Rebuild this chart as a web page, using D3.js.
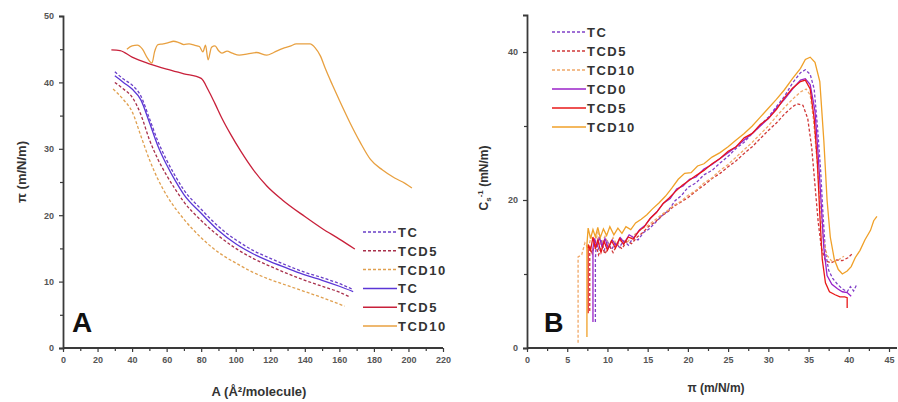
<!DOCTYPE html>
<html>
<head>
<meta charset="utf-8">
<script src="https://cdn.jsdelivr.net/npm/d3@7"></script>
<style>
  body { margin: 0; background: #fff; }
  svg text { font-family: "Liberation Sans", Arial, sans-serif; }
</style>
</head>
<body>
<div id="graph"></div>
<script>
let width = 898;
let height = 402;

// ---- panel A : isotherms, pi vs A ----
const aTicks = [0, 20, 40, 60, 80, 100, 120, 140, 160, 180, 200, 220];
const aPiTicks = [0, 10, 20, 30, 40, 50];

const tcA = [30, 35, 40, 45, 50, 55, 60, 65, 70, 80, 90, 100, 110, 120, 130, 140, 150, 160, 168];
const tcSolidPi = [41.0, 40.0, 39.0, 37.4, 34.0, 30.4, 27.6, 25.2, 23.1, 20.3, 17.7, 15.7, 14.2, 13.0, 12.0, 11.0, 10.2, 9.3, 8.5];
const tcDashPi = [41.6, 40.5, 39.6, 38.0, 34.6, 31.1, 28.3, 25.9, 23.8, 20.9, 18.3, 16.3, 14.7, 13.5, 12.4, 11.4, 10.6, 9.7, 8.8];

const tcd5DashA = [30, 35, 40, 45, 50, 55, 60, 65, 70, 80, 90, 100, 110, 120, 130, 140, 150, 160, 166];
const tcd5DashPi = [40.0, 39.0, 37.8, 35.2, 31.4, 28.4, 26.0, 23.9, 22.0, 19.2, 16.9, 15.0, 13.5, 12.3, 11.2, 10.2, 9.3, 8.4, 7.7];

const tcd10DashA = [29, 35, 40, 45, 50, 55, 60, 70, 80, 90, 100, 110, 120, 130, 140, 150, 163];
const tcd10DashPi = [39.0, 37.4, 35.6, 32.0, 28.4, 25.4, 23.0, 19.4, 16.6, 14.4, 12.8, 11.4, 10.3, 9.4, 8.5, 7.6, 6.3];

const tcd5SolidA = [28, 33, 40, 50, 60, 70, 80, 84, 88, 92, 97, 103, 110, 118, 127, 140, 150, 160, 169];
const tcd5SolidPi = [44.9, 44.8, 43.8, 42.8, 42.0, 41.3, 40.6, 38.9, 36.8, 34.6, 32.2, 29.6, 26.9, 24.4, 22.3, 19.8, 18.0, 16.4, 14.9];

const tcd10SolidA = [37, 40, 43, 46, 49, 51.5, 53, 55, 58, 61, 64, 67, 70, 73, 76, 79, 81, 82.5, 84, 86, 88, 90, 92, 95, 98, 102, 107, 112, 118, 122, 127, 132, 135, 140, 143, 146, 149, 152, 156, 160, 166, 172, 178, 185, 192, 198, 202];
const tcd10SolidPi = [45.0, 45.5, 45.6, 45.0, 43.6, 42.9, 44.6, 45.7, 45.8, 46.0, 46.2, 46.0, 45.7, 45.8, 45.6, 45.4, 44.6, 45.6, 43.4, 45.3, 45.5, 44.8, 44.4, 44.7, 44.4, 44.1, 44.3, 44.5, 44.1, 44.5, 45.1, 45.5, 45.8, 45.8, 45.8, 45.2, 44.0, 42.0, 39.6, 37.3, 34.0, 31.0, 28.4, 26.8, 25.6, 24.8, 24.1];

// ---- panel B : compressibility modulus vs pi ----
const bPiTicks = [0, 5, 10, 15, 20, 25, 30, 35, 40, 45];
const bCTicks = [0, 20, 40];

const bTcDash = [[8.5,3.5],[8.5,8],[8.5,12],[8.6,14.2],[8.9,13.4],[9.2,14.6],[9.6,13.2],[10,14.4],[10.5,13.3],[11,14.2],[11.5,13.6],[12,14.5],[12.6,13.9],[13.2,14.9],[13.8,14.6],[14.5,15.6],[15.2,16.1],[16,17.0],[16.8,17.9],[17.6,18.6],[18.4,19.9],[19.2,20.6],[20,21.7],[21,22.3],[22,23.4],[23,24.0],[24,25.0],[25,25.9],[26,27.0],[27,27.8],[28,29.0],[29,30.1],[30,31.2],[31,32.6],[32,34.0],[33,35.8],[34,37.2],[34.6,37.6],[35.2,37.0],[35.7,35.0],[36.1,30],[36.5,24],[36.8,18],[37.1,13],[37.5,10.5],[38,9.4],[38.6,8.6],[39.2,8.0],[39.8,7.6],[40.2,8.3],[40.6,7.7],[41.0,8.6]];
const bTcd5Dash = [[7.8,5],[7.8,10],[7.8,13.8],[8.1,12.8],[8.5,14.2],[8.9,12.6],[9.3,13.8],[9.7,12.7],[10.2,13.9],[10.7,12.9],[11.2,14.0],[11.8,13.4],[12.4,14.4],[13,14.1],[13.7,15.0],[14.4,15.6],[15.1,16.4],[15.9,17.0],[16.7,17.8],[17.5,18.4],[18.3,19.2],[19.1,19.7],[20,20.3],[21,21.2],[22,22.0],[23,22.9],[24,23.6],[25,24.5],[26,25.3],[27,26.3],[28,27.2],[29,28.3],[30,29.4],[31,30.4],[32,31.6],[33,32.6],[33.6,33.0],[34.3,32.8],[34.9,31.0],[35.4,27],[35.8,22],[36.2,17],[36.6,13.5],[37.1,11.8],[37.8,11.5],[38.5,11.9],[39.2,11.8],[39.9,12.2],[40.5,12.8]];
const bTcd10Dash = [[6.35,0.7],[6.35,6],[6.35,12.3],[6.8,12.6],[7.2,14.2],[7.6,13.4],[8,15.2],[8.4,13.9],[8.8,15.6],[9.2,14.0],[9.7,15.1],[10.2,13.8],[10.7,14.9],[11.2,13.9],[11.8,14.7],[12.4,14.2],[13,15.0],[13.7,15.6],[14.4,16.2],[15.1,16.6],[15.9,17.3],[16.7,18.0],[17.5,18.6],[18.3,19.3],[19.1,19.8],[20,20.6],[21,21.3],[22,22.3],[23,23.0],[24,24.0],[25,24.8],[26,25.8],[27,26.8],[28,27.8],[29,28.9],[30,30.0],[31,31.3],[32,32.5],[33,33.6],[34,34.6],[34.7,35.0],[35.2,34.2],[35.6,31],[36,26],[36.4,20],[36.8,15],[37.3,12.5],[38,11.6],[38.7,11.9],[39.4,12.4]];
const bTcd0Solid = [[8.2,3.5],[8.2,9],[8.2,13.5],[8.4,14.8],[8.7,13.6],[9,15],[9.3,13.8],[9.7,14.8],[10.1,13.5],[10.6,14.6],[11.1,13.8],[11.6,14.9],[12.1,14.2],[12.7,15.3],[13.3,14.9],[14,16.0],[14.7,16.6],[15.4,17.6],[16.2,18.5],[17,19.6],[17.8,20.2],[18.6,21.5],[19.4,21.9],[20.2,22.8],[21,23.1],[22,24.2],[23,24.8],[24,25.6],[25,26.4],[26,27.2],[27,28.1],[28,29.0],[29,30.0],[30,31.0],[31,32.4],[32,33.6],[33,35.0],[34,36.2],[34.6,36.4],[35.2,35.6],[35.8,32],[36.2,26],[36.6,19],[36.9,13.5],[37.3,9.8],[37.9,8.6],[38.6,8.0],[39.2,7.6],[39.8,7.5],[40.3,7.0]];
const bTcd5Solid = [[7.6,4.7],[7.6,10],[7.6,14],[7.9,13.2],[8.2,15.0],[8.5,13.4],[8.8,14.6],[9.2,12.9],[9.6,14.4],[10,13.2],[10.5,14.5],[11,13.5],[11.5,14.8],[12,14.0],[12.6,15.0],[13.2,14.7],[13.9,15.8],[14.6,16.4],[15.3,17.5],[16.1,18.3],[16.9,19.5],[17.7,20.3],[18.5,21.2],[19.3,22.0],[20.1,22.6],[21,23.3],[22,24.0],[23,24.9],[24,25.6],[25,26.6],[26,27.2],[27,28.4],[28,29.0],[29,30.2],[30,31.0],[31,32.2],[32,33.8],[33,35.1],[34,36.0],[34.6,36.2],[35.2,35.0],[35.7,31],[36.1,25],[36.4,18],[36.7,12],[37.1,8.8],[37.6,7.6],[38.3,7.2],[38.9,6.9],[39.5,6.9],[39.8,6.8],[39.8,5.4]];
const bTcd10Solid = [[7.45,1.5],[7.45,8],[7.45,14],[7.6,16.2],[7.9,14.8],[8.2,16.0],[8.5,15.0],[8.8,16.3],[9.1,14.9],[9.5,16.1],[9.9,15.2],[10.3,16.4],[10.8,15.3],[11.3,16.2],[11.8,15.5],[12.3,16.4],[12.9,16.0],[13.5,16.9],[14.2,17.4],[14.9,18.0],[15.6,18.8],[16.4,19.6],[17.2,20.5],[18,21.6],[18.8,22.8],[19.6,23.6],[20.4,23.7],[21.2,24.6],[22,24.9],[23,25.8],[24,26.4],[25,27.2],[26,28.1],[27,29.0],[28,30.0],[29,31.2],[30,32.4],[31,33.6],[32,34.9],[33,36.4],[34,37.8],[34.6,39.0],[35.2,39.3],[35.8,38.6],[36.4,36],[36.9,28],[37.3,20],[37.7,15],[38.2,12],[38.7,10.6],[39.2,10.0],[39.8,10.4],[40.3,11.0],[40.8,12.2],[41.4,13.2],[42.0,14.6],[42.7,15.9],[43.1,17.2],[43.5,17.8]];

let svg = d3.select('#graph')
    .append('svg')
        .attr('width', width)
        .attr('height', height);

// scales
let xA = d3.scaleLinear().domain([0, 220]).range([63, 443]);
let yA = d3.scaleLinear().domain([0, 50]).range([348, 16]);
let xB = d3.scaleLinear().domain([0, 45]).range([527, 889]);
let yB = d3.scaleLinear().domain([0, 45]).range([348, 15]);

function drawAxes(x, y, xMajor, xMinor, yMajor, yMinor, xEnd) {
    let gx = svg.append('g').attr('transform', 'translate(0,348)')
        .call(d3.axisBottom(x).tickValues(xMajor).tickSize(4).tickPadding(5).tickFormat(d3.format('d')));
    svg.append('g').attr('transform', 'translate(0,348)')
        .call(d3.axisBottom(x).tickValues(xMinor).tickSize(3).tickFormat(''))
        .select('.domain').remove();
    gx.select('.domain').attr('d', 'M' + x.range()[0] + ',0H' + xEnd);
    svg.append('g').attr('transform', 'translate(' + x.range()[0] + ',0)')
        .call(d3.axisLeft(y).tickValues(yMajor).tickSize(4).tickPadding(5).tickFormat(d3.format('d')));
    svg.append('g').attr('transform', 'translate(' + x.range()[0] + ',0)')
        .call(d3.axisLeft(y).tickValues(yMinor).tickSize(3).tickFormat(''))
        .select('.domain').remove();
    svg.selectAll('.domain').attr('stroke', '#3a3a3a').attr('stroke-width', 1.8);
    svg.selectAll('.tick line').attr('stroke', '#3a3a3a').attr('stroke-width', 1.2);
    svg.selectAll('.tick text').attr('fill', '#555').style('font-size', '9px').style('font-weight', 'bold');
}

drawAxes(xA, yA, aTicks, d3.range(10, 220, 20), aPiTicks, d3.range(5, 50, 10), 443);
drawAxes(xB, yB, bPiTicks, d3.range(2.5, 45, 5), bCTicks, [10, 30], 897);

// panel A curves (smooth isotherms)
let lineA = d3.line().x(d => xA(d[0])).y(d => yA(d[1])).curve(d3.curveMonotoneX);
let seriesA = [
    { name: 'TC',    a: tcA,        p: tcDashPi,    color: '#6a3fc8', dash: '3,2' },
    { name: 'TCD5',  a: tcd5DashA,  p: tcd5DashPi,  color: '#a8304c', dash: '3,2' },
    { name: 'TCD10', a: tcd10DashA, p: tcd10DashPi, color: '#e0a050', dash: '3,2' },
    { name: 'TC',    a: tcA,        p: tcSolidPi,   color: '#5b36d6', dash: null },
    { name: 'TCD5',  a: tcd5SolidA, p: tcd5SolidPi, color: '#c8203a', dash: null },
    { name: 'TCD10', a: tcd10SolidA, p: tcd10SolidPi, color: '#e8a040', dash: null }
];
seriesA.forEach(function(s) {
    svg.append('path')
        .attr('d', lineA(s.a.map((v, i) => [v, s.p[i]])))
        .style('fill', 'none')
        .attr('stroke', s.color)
        .attr('stroke-width', 1.3)
        .attr('stroke-dasharray', s.dash);
});

// panel B curves
let lineB = d3.line().x(d => xB(d[0])).y(d => yB(d[1]));
let seriesB = [
    { name: 'TC',    d: bTcDash,     color: '#8040c8', dash: '3,2' },
    { name: 'TCD5',  d: bTcd5Dash,   color: '#d03838', dash: '3,2' },
    { name: 'TCD10', d: bTcd10Dash,  color: '#f0a868', dash: '3,2' },
    { name: 'TCD0',  d: bTcd0Solid,  color: '#9a22c8', dash: null },
    { name: 'TCD5',  d: bTcd5Solid,  color: '#e81818', dash: null },
    { name: 'TCD10', d: bTcd10Solid, color: '#f0a028', dash: null }
];
seriesB.forEach(function(s) {
    svg.append('path')
        .attr('d', lineB(s.d))
        .style('fill', 'none')
        .attr('stroke', s.color)
        .attr('stroke-width', 1.3)
        .attr('stroke-dasharray', s.dash);
});

// legends
function legend(series, x0, y0, step) {
    series.forEach(function(s, i) {
        let y = y0 + i * step;
        svg.append('line')
            .attr('x1', x0).attr('x2', x0 + 34)
            .attr('y1', y).attr('y2', y)
            .attr('stroke', s.color)
            .attr('stroke-width', 1.5)
            .attr('stroke-dasharray', s.dash);
        svg.append('text')
            .attr('x', x0 + 35).attr('y', y + 5)
            .style('font-size', '13px').style('font-weight', 'bold')
            .style('letter-spacing', '1.5px')
            .attr('fill', '#333')
            .text(s.name);
    });
}
legend(seriesA, 363, 232, 18.8);
legend(seriesB, 552, 32, 19);

// panel letters
svg.append('text').attr('x', 72).attr('y', 332)
    .style('font-size', '28px').style('font-weight', 'bold').attr('fill', '#111').text('A');
svg.append('text').attr('x', 544).attr('y', 332)
    .style('font-size', '27px').style('font-weight', 'bold').attr('fill', '#111').text('B');

// axis titles
svg.append('text').attr('x', 259).attr('y', 396).attr('text-anchor', 'middle')
    .style('font-size', '13px').style('font-weight', 'bold').attr('fill', '#333')
    .text('A (Å²/molecule)');
svg.append('text').attr('transform', 'translate(26,172) rotate(-90)').attr('text-anchor', 'middle')
    .style('font-size', '13px').style('font-weight', 'bold').attr('fill', '#333')
    .text('π (m/N/m)');
svg.append('text').attr('x', 716).attr('y', 392).attr('text-anchor', 'middle')
    .style('font-size', '12px').style('font-weight', 'bold').attr('fill', '#333')
    .text('π (m/N/m)');
let yt = svg.append('text').attr('transform', 'translate(488,178) rotate(-90)').attr('text-anchor', 'middle')
    .style('font-size', '12px').style('font-weight', 'bold').attr('fill', '#333');
yt.append('tspan').text('C');
yt.append('tspan').attr('dy', 3).style('font-size', '8px').text('s');
yt.append('tspan').attr('dy', -8).style('font-size', '8px').text('-1');
yt.append('tspan').attr('dy', 5).text(' (mN/m)');
</script>
</body>
</html>
